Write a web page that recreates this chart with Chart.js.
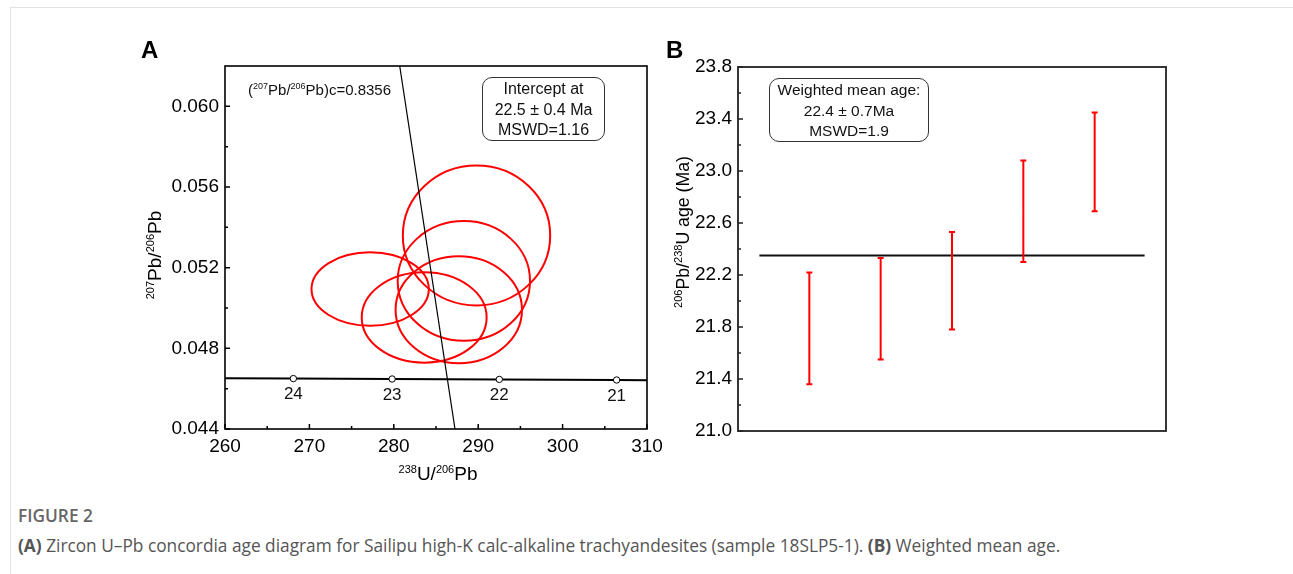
<!DOCTYPE html>
<html>
<head>
<meta charset="utf-8">
<script src="https://cdn.jsdelivr.net/npm/chart.js@4.4.0/dist/chart.umd.min.js"></script>
<style>
body { margin: 0; width: 1293px; height: 574px; position: relative; overflow: hidden; background: #fff; font-family: "Liberation Sans", Arial, sans-serif; color: #111; }
.edge { position: absolute; left: 10px; top: 7px; width: 1283px; height: 567px; border-top: 1px solid #e2e2e2; border-left: 1px solid #e2e2e2; }
canvas { position: absolute; top: 0; }
#chartA { left: 0; }
#chartB { left: 660px; }
.lbl { position: absolute; white-space: nowrap; }
.panel { font-size: 24px; font-weight: bold; color: #000; line-height: 24px; }
.axt { font-size: 19px; line-height: 24px; text-align: center; color: #000; }
.axt sup, .note sup { font-size: 11px; vertical-align: 7px; line-height: 0; }
.rot { transform: rotate(-90deg); }
.box { position: absolute; border: 1.3px solid #333; border-radius: 10px; text-align: center; font-size: 16px; line-height: 20.5px; box-sizing: border-box; padding-top: 1px; color: #111; }
.note { font-size: 15px; color: #111; }
.note sup { font-size: 9px; vertical-align: 6px; }
.cap { font-family: "Open Sans", "Noto Sans", sans-serif; color: #555; font-size: 17.3px; }
</style>
</head>
<body>
<div class="edge"></div>
<canvas id="chartA" width="680" height="490"></canvas>
<canvas id="chartB" width="560" height="490"></canvas>

<div class="lbl panel" style="left:141px; top:38px;">A</div>
<div class="lbl panel" style="left:666px; top:38px;">B</div>

<div class="lbl note" style="left:248px; top:81px;">(<sup>207</sup>Pb/<sup>206</sup>Pb)c=0.8356</div>
<div class="box" style="left:482px; top:77px; width:123px; height:64px;">Intercept at<br>22.5 ± 0.4 Ma<br>MSWD=1.16</div>
<div class="box" style="left:769px; top:78px; width:160px; height:64px; font-size:15.5px;">Weighted mean age:<br>22.4 ± 0.7Ma<br>MSWD=1.9</div>

<div class="lbl axt" style="left:338px; top:462px; width:200px;"><sup>238</sup>U/<sup>206</sup>Pb</div>
<div class="lbl axt rot" style="left:55px; top:243px; width:200px;"><sup>207</sup>Pb/<sup>206</sup>Pb</div>
<div class="lbl axt rot" style="left:533px; top:220px; width:300px; font-size:17.7px;"><sup>206</sup>Pb/<sup>238</sup>U age (Ma)</div>

<div class="lbl cap" style="left:18px; top:504px; font-weight:600; color:#666;">FIGURE 2</div>
<div class="lbl cap" style="left:18px; top:534px;"><b>(A)</b> Zircon U–Pb concordia age diagram for Sailipu high-K calc-alkaline trachyandesites (sample 18SLP5-1). <b>(B)</b> Weighted mean age.</div>

<script>
// A: concordia diagram
const ellipseX = [289.8, 288.3, 287.7, 277.2, 283.6];
const ellipseY = [0.05360, 0.05134, 0.04991, 0.05094, 0.04953];
const ellipseRx = [8.73, 7.84, 7.49, 6.95, 7.40];
const ellipseRy = [0.00347, 0.00297, 0.00265, 0.00182, 0.00224];

const concordiaX = [260, 268.1, 279.8, 292.5, 306.4, 310];
const concordiaY = [0.04652, 0.04650, 0.04648, 0.04646, 0.04643, 0.04642];
const concordiaAges = ["", "24", "23", "22", "21", ""];

const discordiaX = [280.7, 287.25];
const discordiaY = [0.062, 0.044];

const xTicksA = [260, 270, 280, 290, 300, 310];
const xMinorA = [265, 275, 285, 295, 305];
const yTicksA = [0.044, 0.048, 0.052, 0.056, 0.060];
const yMinorA = [0.046, 0.050, 0.054, 0.058];

// B: weighted mean age
const spotNo = [1, 2, 3, 4, 5];
const ageLow = [21.36, 21.55, 21.78, 22.30, 22.69];
const ageHigh = [22.22, 22.33, 22.53, 23.08, 23.45];
const meanAge = 22.35;
const meanLineX = [0.3, 5.7];
const yTicksB = [21.0, 21.4, 21.8, 22.2, 22.6, 23.0, 23.4, 23.8];
const yMinorB = [21.2, 21.6, 22.0, 22.4, 22.8, 23.2, 23.6];

const tickFont = { family: "Liberation Sans", size: 19 };

// box round the plot and ticks pointing inward
const frame = {
    id: "frame",
    afterDraw(chart, args, o) {
        const { ctx, chartArea: a, scales } = chart;
        ctx.save();
        ctx.strokeStyle = o.color;
        ctx.lineWidth = o.width;
        ctx.strokeRect(a.left, a.top, a.right - a.left, a.bottom - a.top);
        ctx.lineWidth = 1.5;
        ctx.beginPath();
        (o.xMajor || []).forEach(v => {
            const px = scales.x.getPixelForValue(v);
            ctx.moveTo(px, a.bottom); ctx.lineTo(px, a.bottom - 5);
        });
        (o.xMinor || []).forEach(v => {
            const px = scales.x.getPixelForValue(v);
            ctx.moveTo(px, a.bottom); ctx.lineTo(px, a.bottom - 3);
        });
        (o.yMajor || []).forEach(v => {
            const py = scales.y.getPixelForValue(v);
            ctx.moveTo(a.left, py); ctx.lineTo(a.left + 5, py);
        });
        (o.yMinor || []).forEach(v => {
            const py = scales.y.getPixelForValue(v);
            ctx.moveTo(a.left, py); ctx.lineTo(a.left + 3, py);
        });
        ctx.stroke();
        ctx.restore();
    }
};

// error ellipses
const ellipses = {
    id: "ellipses",
    beforeDatasetsDraw(chart) {
        const { ctx, chartArea: a, scales: { x, y } } = chart;
        ctx.save();
        ctx.beginPath();
        ctx.rect(a.left, a.top, a.right - a.left, a.bottom - a.top);
        ctx.clip();
        ctx.strokeStyle = "#ff0000";
        ctx.lineWidth = 2;
        ellipseX.forEach((cx, i) => {
            const px = x.getPixelForValue(cx);
            const py = y.getPixelForValue(ellipseY[i]);
            const rx = x.getPixelForValue(cx + ellipseRx[i]) - px;
            const ry = py - y.getPixelForValue(ellipseY[i] + ellipseRy[i]);
            ctx.beginPath();
            ctx.ellipse(px, py, rx, ry, 0, 0, Math.PI * 2);
            ctx.stroke();
        });
        ctx.restore();
    },
    afterDatasetsDraw(chart) {
        const { ctx, scales: { x, y } } = chart;
        ctx.save();
        ctx.fillStyle = "#111";
        ctx.font = "17px 'Liberation Sans'";
        ctx.textAlign = "center";
        ctx.textBaseline = "middle";
        concordiaX.forEach((v, i) => {
            if (!concordiaAges[i]) return;
            ctx.fillText(concordiaAges[i], x.getPixelForValue(v), y.getPixelForValue(concordiaY[i]) + 16);
        });
        ctx.restore();
    }
};

// error bars with caps
const errorBars = {
    id: "errorBars",
    afterDatasetsDraw(chart) {
        const { ctx, scales: { x, y } } = chart;
        ctx.save();
        ctx.strokeStyle = "#ff0000";
        ctx.lineWidth = 2;
        ctx.beginPath();
        spotNo.forEach((s, i) => {
            const px = x.getPixelForValue(s);
            const top = y.getPixelForValue(ageHigh[i]);
            const bot = y.getPixelForValue(ageLow[i]);
            ctx.moveTo(px, top); ctx.lineTo(px, bot);
            ctx.moveTo(px - 3, top); ctx.lineTo(px + 3, top);
            ctx.moveTo(px - 3, bot); ctx.lineTo(px + 3, bot);
        });
        ctx.stroke();
        ctx.restore();
    }
};

function setupCharts() {
    new Chart(document.getElementById("chartA").getContext("2d"), {
        type: "scatter",
        data: {
            datasets: [{
                data: concordiaX.map((v, i) => ({ x: v, y: concordiaY[i] })),
                showLine: true,
                borderColor: "#000",
                borderWidth: 2,
                pointRadius: concordiaAges.map(a => a ? 3.2 : 0),
                pointBackgroundColor: "#fff",
                pointBorderColor: "#000",
                pointBorderWidth: 1
            }, {
                data: discordiaX.map((v, i) => ({ x: v, y: discordiaY[i] })),
                showLine: true,
                borderColor: "#000",
                borderWidth: 1.2,
                pointRadius: 0
            }]
        },
        options: {
            responsive: false,
            animation: false,
            layout: { padding: { top: 66, right: 33 } },
            plugins: {
                legend: { display: false },
                tooltip: { enabled: false },
                frame: { color: "#000", width: 1.6, xMajor: xTicksA, xMinor: xMinorA, yMajor: yTicksA, yMinor: yMinorA }
            },
            scales: {
                x: {
                    type: "linear", min: 260, max: 310,
                    grid: { display: false, drawTicks: false },
                    border: { display: false },
                    afterBuildTicks: s => { s.ticks = xTicksA.map(v => ({ value: v })); },
                    afterFit: s => { s.height = 61; },
                    ticks: { font: tickFont, color: "#000", padding: 6, maxRotation: 0, autoSkip: false }
                },
                y: {
                    min: 0.044, max: 0.062,
                    grid: { display: false, drawTicks: false },
                    border: { display: false },
                    afterBuildTicks: s => { s.ticks = yTicksA.map(v => ({ value: v })); },
                    afterFit: s => { s.width = 225; },
                    ticks: { font: tickFont, color: "#000", padding: 6, callback: v => v.toFixed(3) }
                }
            }
        },
        plugins: [ellipses, frame]
    });

    new Chart(document.getElementById("chartB").getContext("2d"), {
        type: "scatter",
        data: {
            datasets: [{
                data: meanLineX.map(v => ({ x: v, y: meanAge })),
                showLine: true,
                borderColor: "#111",
                borderWidth: 2,
                pointRadius: 0
            }]
        },
        options: {
            responsive: false,
            animation: false,
            layout: { padding: { top: 67, right: 54, bottom: 59 } },
            plugins: {
                legend: { display: false },
                tooltip: { enabled: false },
                frame: { color: "#222", width: 1.8, yMajor: yTicksB, yMinor: yMinorB }
            },
            scales: {
                x: { type: "linear", min: 0, max: 6, display: false },
                y: {
                    min: 21.0, max: 23.8,
                    grid: { display: false, drawTicks: false },
                    border: { display: false },
                    afterBuildTicks: s => { s.ticks = yTicksB.map(v => ({ value: v })); },
                    afterFit: s => { s.width = 78; },
                    ticks: { font: tickFont, color: "#000", padding: 6, callback: v => v.toFixed(1) }
                }
            }
        },
        plugins: [errorBars, frame]
    });
}

document.addEventListener("DOMContentLoaded", setupCharts);
</script>
</body>
</html>
